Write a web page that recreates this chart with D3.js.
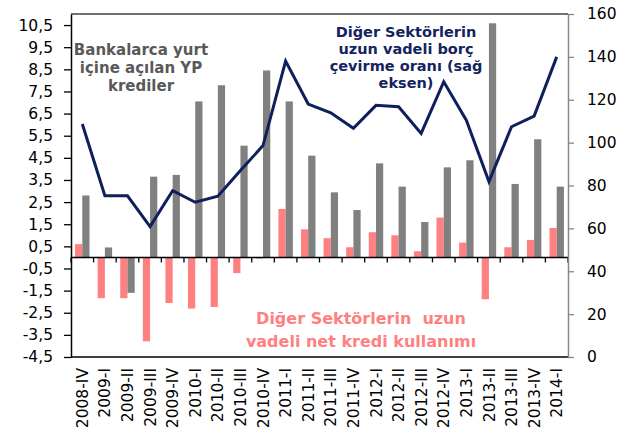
<!DOCTYPE html>
<html>
<head>
<meta charset="utf-8">
<script src="https://cdn.jsdelivr.net/npm/d3@7/dist/d3.min.js"></script>
<style>
  html, body { margin: 0; padding: 0; background: #fff; }
  svg { display: block; font-family: "DejaVu Sans", sans-serif; }
</style>
</head>
<body>
<svg id="chart" width="628" height="441"></svg>
<script>
// Quarterly categories
const categories = ["2008-IV","2009-I","2009-II","2009-III","2009-IV","2010-I","2010-II","2010-III","2010-IV",
  "2011-I","2011-II","2011-III","2011-IV","2012-I","2012-II","2012-III","2012-IV","2013-I","2013-II","2013-III","2013-IV","2014-I"];

// Bankalarca yurt içine açılan YP krediler (left axis)
const ypKrediler = [2.8, 0.45, -1.6, 3.65, 3.73, 7.05, 7.78, 5.05, 8.45, 7.05, 4.6, 2.94, 2.14, 4.25, 3.2, 1.6, 4.07, 4.39, 10.58, 3.32, 5.34, 3.2];

// Diğer sektörlerin uzun vadeli net kredi kullanımı (left axis)
const netKredi = [0.6, -1.84, -1.84, -3.79, -2.06, -2.31, -2.24, -0.71, -0.05, 2.19, 1.27, 0.87, 0.46, 1.14, 1.0, 0.28, 1.8, 0.67, -1.89, 0.46, 0.79, 1.33];

// Diğer sektörlerin uzun vadeli borç çevirme oranı (right axis)
const cevirmeOrani = [108.7, 75.2, 75.2, 60.8, 77.6, 72.2, 75, 87, 98.6, 138, 118, 113.9, 106.7, 117.4, 116.7, 104.3, 128.4, 110.5, 81.8, 107.4, 112.4, 140];

// Axis ticks
const leftTicks = d3.range(-4.5, 11, 1);
const rightTicks = d3.range(0, 161, 20);

const margin = { left: 71, right: 568, top: 14, bottom: 357 };

const svg = d3.select("#chart");

const x = d3.scaleBand().domain(categories).range([margin.left, margin.right])
  .paddingInner(0.36).paddingOuter(0.18);
const xSeries = d3.scaleBand().domain(["net", "yp"]).range([0, x.bandwidth()]);
const yL = d3.scaleLinear().domain([-4.5, 11]).range([margin.bottom, margin.top]);
const yR = d3.scaleLinear().domain([0, 160]).range([margin.bottom, margin.top]);

const fmt = d => d.toFixed(1).replace(".", ",");

// Bars: pink on the left, grey on the right within each quarter
const bars = svg.append("g");
bars.selectAll("rect.net").data(categories).join("rect")
  .attr("class", "net")
  .attr("x", c => x(c) + xSeries("net"))
  .attr("width", xSeries.bandwidth())
  .attr("y", (c, i) => yL(Math.max(0, netKredi[i])))
  .attr("height", (c, i) => Math.abs(yL(netKredi[i]) - yL(0)))
  .attr("fill", "#ff8080");
bars.selectAll("rect.yp").data(categories).join("rect")
  .attr("class", "yp")
  .attr("x", c => x(c) + xSeries("yp"))
  .attr("width", xSeries.bandwidth())
  .attr("y", (c, i) => yL(Math.max(0, ypKrediler[i])))
  .attr("height", (c, i) => Math.abs(yL(ypKrediler[i]) - yL(0)))
  .attr("fill", "#808080");

// Category axis along zero
const zeroY = yL(0);
const half = (x.step() - x.bandwidth()) / 2;
const bounds = categories.map(c => x(c) - half).concat([x(categories[categories.length - 1]) + x.bandwidth() + half]);
svg.append("line")
  .attr("x1", margin.left).attr("x2", margin.right)
  .attr("y1", zeroY).attr("y2", zeroY)
  .attr("stroke", "#000").attr("stroke-width", 1.5);
svg.append("g").selectAll("line").data(bounds).join("line")
  .attr("x1", d => d).attr("x2", d => d)
  .attr("y1", zeroY).attr("y2", zeroY + 5)
  .attr("stroke", "#000").attr("stroke-width", 1.3);

// Line series
const line = d3.line()
  .x((d, i) => x(categories[i]) + x.bandwidth() / 2)
  .y(d => yR(d));
svg.append("path").datum(cevirmeOrani)
  .attr("d", line)
  .attr("fill", "none")
  .attr("stroke", "#0f1f5c")
  .attr("stroke-width", 3)
  .attr("stroke-linejoin", "miter");

// Frame
svg.append("line")
  .attr("x1", margin.left).attr("x2", margin.right)
  .attr("y1", margin.top).attr("y2", margin.top)
  .attr("stroke", "#404040").attr("stroke-width", 1.5);
svg.append("line")
  .attr("x1", margin.left).attr("x2", margin.right)
  .attr("y1", margin.bottom).attr("y2", margin.bottom)
  .attr("stroke", "#000").attr("stroke-width", 1.5);

// Left axis
const leftAxis = svg.append("g")
  .attr("transform", `translate(${margin.left},0)`)
  .call(d3.axisLeft(yL).tickValues(leftTicks).tickFormat(fmt).tickSize(7).tickSizeOuter(0).tickPadding(11));
leftAxis.select(".domain").attr("stroke", "#000").attr("stroke-width", 1.5);
leftAxis.selectAll(".tick line").attr("stroke", "#000").attr("stroke-width", 1.3);
leftAxis.selectAll("text").attr("font-size", 15.5).attr("fill", "#000").attr("font-family", "DejaVu Sans");

// Right axis
const rightAxis = svg.append("g")
  .attr("transform", `translate(${margin.right},0)`)
  .call(d3.axisRight(yR).tickValues(rightTicks).tickSize(6).tickSizeOuter(0).tickPadding(13));
rightAxis.select(".domain").attr("stroke", "#878787").attr("stroke-width", 1.5);
rightAxis.selectAll(".tick line").attr("stroke", "#878787").attr("stroke-width", 1.3);
rightAxis.selectAll("text").attr("font-size", 15.5).attr("fill", "#000").attr("font-family", "DejaVu Sans");

// Quarter labels, vertical
svg.append("g").selectAll("text").data(categories).join("text")
  .attr("transform", c => `translate(${x(c) + x.bandwidth() / 2},368) rotate(-90)`)
  .attr("text-anchor", "end")
  .attr("dy", "0.36em")
  .attr("font-size", 15.5)
  .attr("fill", "#000")
  .text(c => c);

// Series annotations
function label(lines, cx, y0, lh, size, color) {
  const t = svg.append("text")
    .attr("text-anchor", "middle")
    .attr("font-size", size)
    .attr("font-weight", "bold")
    .attr("fill", color)
    .style("white-space", "pre");
  lines.forEach((s, i) => t.append("tspan").attr("x", cx).attr("y", y0 + i * lh).text(s));
}
label(["Bankalarca yurt", "içine açılan YP", "krediler"], 141, 55, 18, 15, "#595959");
label(["Diğer Sektörlerin", "uzun vadeli borç", "çevirme oranı (sağ", "eksen)"], 406, 37, 17, 14.5, "#14245f");
label(["Diğer Sektörlerin  uzun", "vadeli net kredi kullanımı"], 361, 324, 23, 16, "#ff8080");
</script>
</body>
</html>
